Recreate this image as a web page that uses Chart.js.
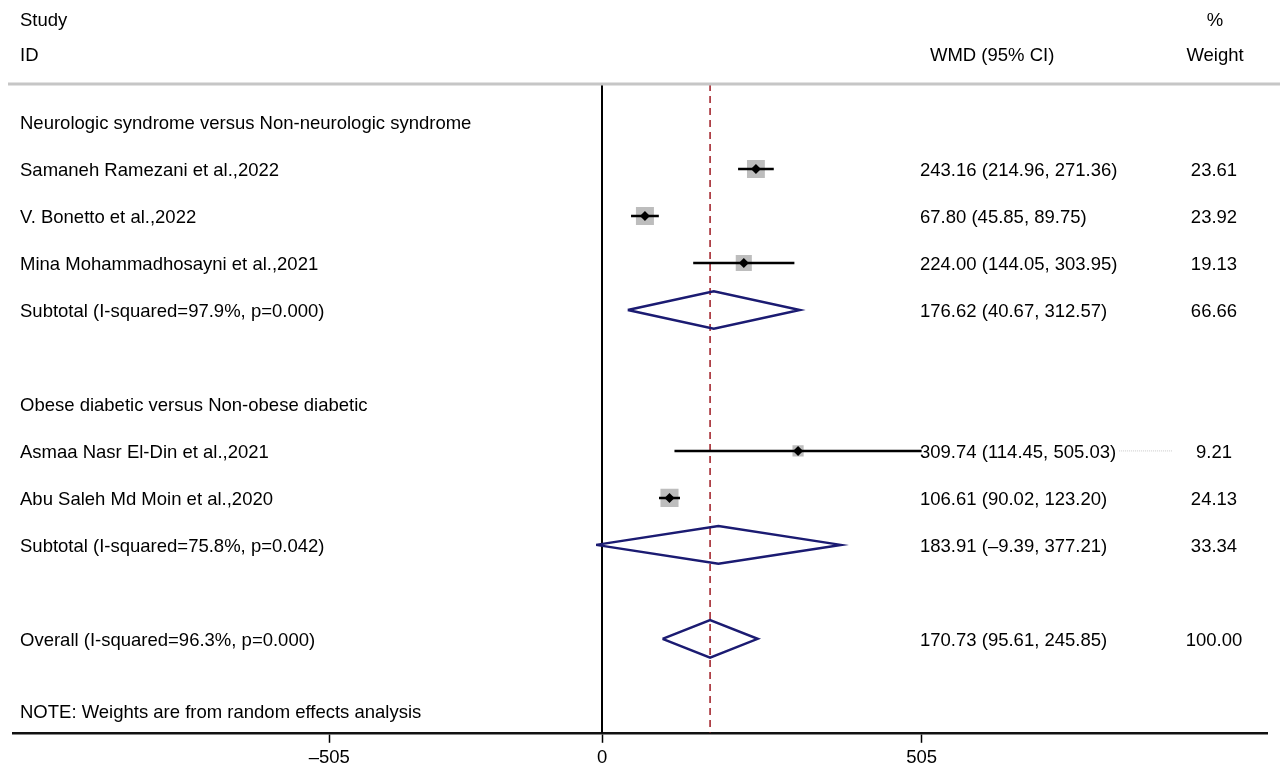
<!DOCTYPE html>
<html>
<head>
<meta charset="utf-8">
<script src="https://cdn.jsdelivr.net/npm/chart.js@4"></script>
<style>
html, body { margin: 0; padding: 0; background: #fff; }
#wrap { width: 1280px; height: 768px; position: relative; }
</style>
</head>
<body>
<div id="wrap"><canvas id="forest"></canvas></div>
<script>
// rows are counted from the top of the plot area
const groupLabels = ['Neurologic syndrome versus Non-neurologic syndrome', 'Obese diabetic versus Non-obese diabetic'];
const groupRows = [1, 7];

const studyNames = ['Samaneh Ramezani et al.,2022', 'V. Bonetto et al.,2022', 'Mina Mohammadhosayni et al.,2021',
    'Asmaa Nasr El-Din et al.,2021', 'Abu Saleh Md Moin et al.,2020'];
const studyRows = [2, 3, 4, 8, 9];
const studyWmd = [243.16, 67.80, 224.00, 309.74, 106.61];
const studyLow = [214.96, 45.85, 144.05, 114.45, 90.02];
const studyHigh = [271.36, 89.75, 303.95, 505.03, 123.20];
const studyWeight = [23.61, 23.92, 19.13, 9.21, 24.13];

const pooledNames = ['Subtotal (I-squared=97.9%, p=0.000)', 'Subtotal (I-squared=75.8%, p=0.042)', 'Overall (I-squared=96.3%, p=0.000)'];
const pooledRows = [5, 10, 12];
const pooledWmd = [176.62, 183.91, 170.73];
const pooledLow = [40.67, -9.39, 95.61];
const pooledHigh = [312.57, 377.21, 245.85];
const pooledWeight = [66.66, 33.34, 100.00];

const tickValues = [-431, 0, 505];
const tickLabels = ['–505', '0', '505'];
const noteText = 'NOTE: Weights are from random effects analysis';
const noteRow = 13.53;

const FONT = '"Liberation Sans", Arial, Helvetica, sans-serif';
const X_MIN = -931, X_MAX = 1051;
const Y_MIN = 0.19, Y_MAX = 14;
const TEXT_NUDGE = 2;

function fmt(v) {
    let s = Math.abs(v).toFixed(2);
    return v < 0 ? '–' + s : s;
}

// CI bars with gaps between studies
let ciData = [];
studyRows.forEach((row, i) => {
    ciData.push({ x: studyLow[i], y: row }, { x: studyHigh[i], y: row }, { x: null, y: null });
});

// pooled diamonds as closed outlines
let diamondData = [];
pooledRows.forEach((row, i) => {
    diamondData.push(
        { x: pooledLow[i], y: row },
        { x: pooledWmd[i], y: row - 0.4 },
        { x: pooledHigh[i], y: row },
        { x: pooledWmd[i], y: row + 0.4 },
        { x: pooledLow[i], y: row },
        { x: null, y: null });
});

const overallWmd = pooledWmd[pooledWmd.length - 1];

const textPlugin = {
    id: 'forestText',
    afterDraw(chart) {
        const ctx = chart.ctx;
        const y = chart.scales.y;
        const area = chart.chartArea;
        const rowY = (v) => y.getPixelForValue(v) + TEXT_NUDGE;
        ctx.save();

        // header separator
        ctx.strokeStyle = '#c6c6c6';
        ctx.lineWidth = 3;
        ctx.beginPath();
        ctx.moveTo(8, area.top);
        ctx.lineTo(1280, area.top);
        ctx.stroke();

        ctx.font = '18.5px ' + FONT;
        ctx.fillStyle = '#000';
        ctx.textBaseline = 'middle';

        ctx.textAlign = 'left';
        ctx.fillText('Study', 20, 21);
        ctx.fillText('ID', 20, 56);
        ctx.fillText('WMD (95% CI)', 930, 56);
        ctx.textAlign = 'center';
        ctx.fillText('%', 1215, 21);
        ctx.fillText('Weight', 1215, 56);

        ctx.textAlign = 'left';
        groupLabels.forEach((label, i) => {
            ctx.fillText(label, 20, rowY(groupRows[i]));
        });

        function drawRow(name, row, wmd, lo, hi, w, clipped) {
            let py = rowY(row);
            ctx.textAlign = 'left';
            ctx.fillText(name, 20, py);
            let txt = fmt(wmd) + ' (' + fmt(lo) + ', ' + fmt(hi) + ')';
            ctx.fillText(txt, 920, py);
            if (clipped) {
                let end = 920 + ctx.measureText(txt).width + 3;
                let ly = y.getPixelForValue(row);
                ctx.save();
                ctx.strokeStyle = '#c8c8c8';
                ctx.lineWidth = 1;
                ctx.setLineDash([1, 1]);
                ctx.beginPath();
                ctx.moveTo(end, ly);
                ctx.lineTo(1172, ly);
                ctx.stroke();
                ctx.restore();
            }
            ctx.textAlign = 'center';
            ctx.fillText(w.toFixed(2), 1214, py);
        }

        studyNames.forEach((name, i) => {
            drawRow(name, studyRows[i], studyWmd[i], studyLow[i], studyHigh[i], studyWeight[i],
                studyHigh[i] > tickValues[tickValues.length - 1]);
        });
        pooledNames.forEach((name, i) => {
            drawRow(name, pooledRows[i], pooledWmd[i], pooledLow[i], pooledHigh[i], pooledWeight[i], false);
        });

        ctx.textAlign = 'left';
        ctx.fillText(noteText, 20, rowY(noteRow));
        ctx.restore();
    }
};

const ctx = document.getElementById('forest').getContext('2d');
const chart = new Chart(ctx, {
    type: 'scatter',
    data: {
        datasets: [
            {
                label: 'point',
                data: studyWmd.map((v, i) => ({ x: v, y: studyRows[i] })),
                pointStyle: 'rectRot',
                pointRadius: 5,
                backgroundColor: '#000',
                borderWidth: 0,
                order: 1
            },
            {
                label: 'ci',
                type: 'line',
                data: ciData,
                borderColor: '#000',
                borderWidth: 2.5,
                pointRadius: 0,
                spanGaps: false,
                order: 2
            },
            {
                label: 'pooled',
                type: 'line',
                data: diamondData,
                borderColor: '#1b1b72',
                borderWidth: 2.5,
                pointRadius: 0,
                spanGaps: false,
                fill: false,
                order: 2
            },
            {
                label: 'weight',
                data: studyWmd.map((v, i) => ({ x: v, y: studyRows[i] })),
                pointStyle: 'rect',
                pointRadius: studyWeight.map(w => 3.68 * Math.sqrt(w) / Math.SQRT2),
                backgroundColor: '#bdbdbd',
                borderWidth: 0,
                order: 3
            },
            {
                label: 'overall',
                type: 'line',
                data: [{ x: overallWmd, y: Y_MIN }, { x: overallWmd, y: Y_MAX }],
                borderColor: '#a3262e',
                borderWidth: 1.6,
                borderDash: [7, 5],
                pointRadius: 0,
                order: 4
            },
            {
                label: 'zero',
                type: 'line',
                data: [{ x: 0, y: Y_MIN }, { x: 0, y: Y_MAX }],
                borderColor: '#000',
                borderWidth: 2,
                pointRadius: 0,
                order: 5
            }
        ]
    },
    options: {
        responsive: true,
        maintainAspectRatio: false,
        animation: false,
        events: [],
        layout: { padding: { top: 84, left: 8, right: 0, bottom: -5 } },
        plugins: {
            legend: { display: false },
            tooltip: { enabled: false }
        },
        scales: {
            x: {
                type: 'linear',
                min: X_MIN,
                max: X_MAX,
                afterBuildTicks: (scale) => {
                    scale.ticks = tickValues.map(v => ({ value: v }));
                },
                ticks: {
                    callback: (value, index) => tickLabels[index],
                    font: { family: FONT, size: 18.5 },
                    color: '#000',
                    padding: 4,
                    maxRotation: 0,
                    autoSkip: false
                },
                grid: {
                    drawOnChartArea: false,
                    drawTicks: true,
                    tickLength: 10,
                    tickColor: '#000',
                    tickWidth: 1.5
                },
                border: { color: '#111', width: 2.5 }
            },
            y: {
                type: 'linear',
                reverse: true,
                min: Y_MIN,
                max: Y_MAX,
                display: false
            }
        }
    },
    plugins: [textPlugin]
});
</script>
</body>
</html>
